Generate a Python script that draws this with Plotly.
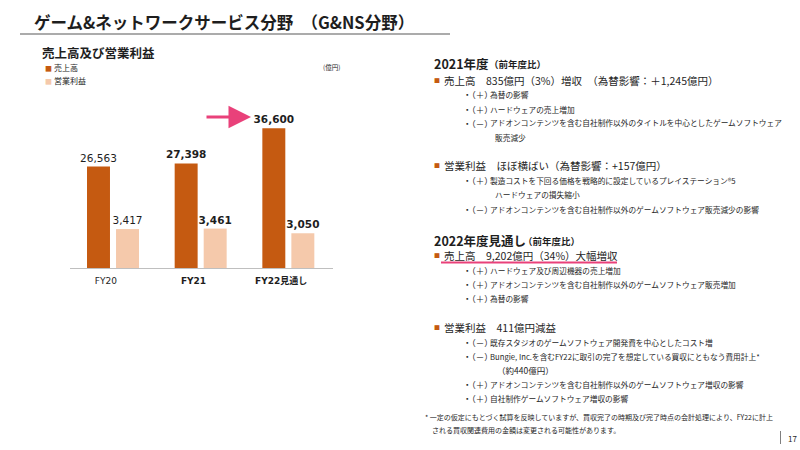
import plotly.graph_objects as go

W, H = 800, 450


def px(x):
    return x / W


def py(y):
    return 1 - y / H


# ---------------- data ----------------
categories = ["FY20", "FY21", "FY22見通し"]
cat_bold = [False, True, True]
sales = [26563, 27398, 36600]
op_income = [3417, 3461, 3050]
label_bold = [False, True, True]

title_text = "ゲーム&ネットワークサービス分野　（G&NS分野）"
chart_title = "売上高及び営業利益"
legend_names = ["売上高", "営業利益"]
unit_text = "(億円)"

sec1_head = "2021年度"
sec2_head = "2022年度見通し"
sec_sub = "（前年度比）"
sec1_lines = [
    ("head", "売上高　835億円（3%）増収　（為替影響：＋1,245億円）"),
    ("bul", "（＋）", "為替の影響"),
    ("bul", "（＋）", "ハードウェアの売上増加"),
    ("bul", "（－）", "アドオンコンテンツを含む自社制作以外のタイトルを中心としたゲームソフトウェア"),
    ("cont", "販売減少"),
    ("blank",),
    ("head", "営業利益　ほぼ横ばい（為替影響：+157億円）"),
    ("bul", "（＋）", "製造コストを下回る価格を戦略的に設定しているプレイステーション®5"),
    ("cont", "ハードウェアの損失縮小"),
    ("bul", "（－）", "アドオンコンテンツを含む自社制作以外のゲームソフトウェア販売減少の影響"),
]
sec2_lines = [
    ("head", "売上高　9,202億円（34%）大幅増収"),
    ("bul", "（＋）", "ハードウェア及び周辺機器の売上増加"),
    ("bul", "（＋）", "アドオンコンテンツを含む自社制作以外のゲームソフトウェア販売増加"),
    ("bul", "（＋）", "為替の影響"),
    ("blank",),
    ("head", "営業利益　411億円減益"),
    ("bul", "（－）", "既存スタジオのゲームソフトウェア開発費を中心としたコスト増"),
    ("bul", "（－）", "Bungie, Inc.を含むFY22に取引の完了を想定している買収にともなう費用計上*"),
    ("cont2", "（約440億円）"),
    ("bul", "（＋）", "アドオンコンテンツを含む自社制作以外のゲームソフトウェア増収の影響"),
    ("bul", "（＋）", "自社制作ゲームソフトウェア増収の影響"),
]
footnotes = [
    "* 一定の仮定にもとづく試算を反映していますが、買収完了の時期及び完了時点の会計処理により、FY22に計上",
    "される買収関連費用の金額は変更される可能性があります。",
]
page_no = "17"

# ---------------- style ----------------
C_SALES = "#C55A11"
C_OP = "#F5C9AB"
C_PINK = "#E9417A"
C_TXT = "#1E1E1E"
JP = "Noto Sans CJK JP"
NUM = "DejaVu Sans, Noto Sans CJK JP"


def b(s, on):
    return f"<b>{s}</b>" if on else s


fig = go.Figure()
fig.add_trace(go.Bar(
    x=categories, y=sales, name=legend_names[0],
    marker=dict(color=C_SALES, line=dict(width=0)),
    width=0.262, offset=-0.306,
    text=[b(f"{v:,}", f) for v, f in zip(sales, label_bold)],
    textposition="outside", constraintext="none", cliponaxis=False,
    textfont=dict(family=NUM, size=10.5, color=C_TXT),
    hoverinfo="skip",
))
fig.add_trace(go.Bar(
    x=categories, y=op_income, name=legend_names[1], yaxis="y2",
    marker=dict(color=C_OP, line=dict(width=0)),
    width=0.262, offset=0.025,
    text=[b(f"{v:,}", f) for v, f in zip(op_income, label_bold)],
    textposition="outside", constraintext="none", cliponaxis=False,
    textfont=dict(family=NUM, size=10.5, color=C_TXT),
    hoverinfo="skip",
))

ydom = [py(268), py(100)]
fig.update_layout(
    width=W, height=H, margin=dict(l=0, r=0, t=0, b=0),
    paper_bgcolor="white", plot_bgcolor="white", showlegend=False,
    font=dict(family=JP, color=C_TXT),
    xaxis=dict(domain=[px(70), px(333)], anchor="y", showline=True,
               linecolor="#BFBFBF", linewidth=1, ticks="", showgrid=False,
               tickmode="array", tickvals=categories,
               ticktext=[b(c, f) for c, f in zip(categories, cat_bold)],
               tickfont=dict(family=NUM, size=9, color=C_TXT),
               ticklabelshift=-8, ticklabelstandoff=4, fixedrange=True),
    yaxis=dict(domain=ydom, range=[0, 44015], visible=False, fixedrange=True),
    yaxis2=dict(domain=ydom, range=[0, 14750], overlaying="y", visible=False,
                fixedrange=True),
)

ann = []


def text(x, y, s, size, bold=False, color=C_TXT, family=JP, anchor="left"):
    ann.append(dict(x=px(x), y=py(y), xref="paper", yref="paper",
                    text=b(s, bold), showarrow=False, xanchor=anchor,
                    yanchor="middle", font=dict(family=family, size=size, color=color)))


# title
text(32, 22, title_text, 16.5, bold=True)
text(40, 53, chart_title, 12.5, bold=True)
text(43, 68, "■", 7, color=C_SALES)
text(52, 68, legend_names[0], 8)
text(43, 81, "■", 7, color=C_OP)
text(52, 81, legend_names[1], 8)
text(321, 67, unit_text, 6.5)

# arrow
ann.append(dict(x=px(251), y=py(117), xref="paper", yref="paper", ax=-46, ay=0,
                showarrow=True, arrowhead=2, arrowsize=1.5, arrowwidth=3,
                arrowcolor=C_PINK, text=""))


def section(head, y0, lines, ys):
    text(432, y0, head, 12.5, bold=True)
    for line, y in zip(lines, ys):
        kind = line[0]
        if kind == "head":
            text(432, y, "■", 6, color=C_SALES)
            text(442, y, line[1], 10.5)
        elif kind == "bul":
            text(461, y, "・" + line[1], 8.5)
            text(488, y, line[2], 7.7)
        elif kind == "cont":
            text(493, y, line[1], 7.7)
        elif kind == "cont2":
            text(495, y, line[1], 8.5)


sec1_y = [80, 94.5, 109, 123, 137.5, 152, 166, 180, 194.5, 209]
sec2_y = [255, 270, 284, 298, 312, 327, 342, 356, 370, 384, 398]
section(sec1_head, 63, sec1_lines, sec1_y)
text(487, 64, sec_sub, 9.5, bold=True)
section(sec2_head, 240, sec2_lines, sec2_y)
text(521, 241, sec_sub, 9.5, bold=True)

text(423, 417, footnotes[0], 7)
text(430, 430, footnotes[1], 7)
text(786, 438, page_no, 8)

fig.update_layout(annotations=ann)

shapes = [
    dict(type="line", xref="paper", yref="paper", x0=px(20), x1=px(450),
         y0=py(34), y1=py(34), line=dict(color="#595959", width=1.2)),
    dict(type="line", xref="paper", yref="paper", x0=px(441), x1=px(617),
         y0=py(262.5), y1=py(262.5), line=dict(color=C_PINK, width=2)),
    dict(type="line", xref="paper", yref="paper", x0=px(780.5), x1=px(780.5),
         y0=py(431), y1=py(444), line=dict(color="#7F7F7F", width=1)),
]
fig.update_layout(shapes=shapes)

fig.write_html("out.html", config={"displayModeBar": False, "staticPlot": True},
               post_script="document.body.style.margin='0';")
